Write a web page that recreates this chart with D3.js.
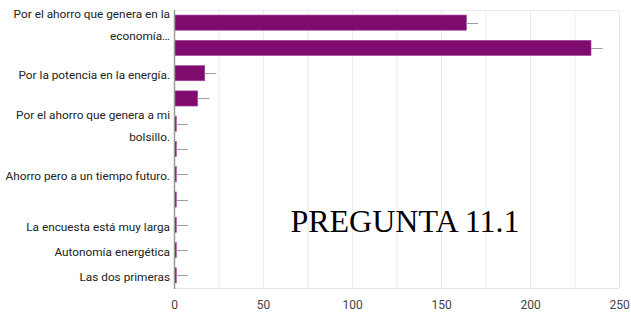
<!DOCTYPE html>
<html>
<head>
<meta charset="utf-8">
<script src="https://cdn.jsdelivr.net/npm/d3@7"></script>
<style>
  body { margin: 0; background: #fff; }
  svg { display: block; }
</style>
</head>
<body>
<svg></svg>
<script>
// answer labels, wrapped the way the chart shows them (empty = label hidden)
const labels = [
    ["Por el ahorro que genera en la", "economía…"],
    [],
    ["Por la potencia en la energía."],
    [],
    ["Por el ahorro que genera a mi", "bolsillo."],
    [],
    ["Ahorro pero a un tiempo futuro."],
    [],
    ["La encuesta está muy larga"],
    ["Autonomía energética"],
    ["Las dos primeras"]
]
const counts = [164, 234, 17, 13, 1, 1, 1, 1, 1, 1, 1]
const errors = [6.5, 6.5, 6.5, 6.5, 6.5, 6.5, 6.5, 6.5, 6.5, 6.5, 6.5]
const gridValues = [0, 25, 50, 75, 100, 125, 150, 175, 200, 225, 250]
const tickValues = [0, 50, 100, 150, 200, 250]
const title = "PREGUNTA 11.1"

const width = 631
const height = 314
const margin = {top: 10, right: 12, bottom: 26, left: 174}

const svg = d3.select("svg")
    .attr("width", width)
    .attr("height", height)

const x = d3.scaleLinear()
    .domain([0, 250])
    .range([margin.left, width - margin.right])

const y = d3.scaleBand()
    .domain(d3.range(counts.length))
    .range([margin.top, height - margin.bottom])
    .paddingInner(0.4)
    .paddingOuter(0.2)

// grid
svg.append("g")
    .selectAll("line")
    .data(gridValues.slice(1))
    .join("line")
    .attr("x1", d => x(d) + 0.5)
    .attr("x2", d => x(d) + 0.5)
    .attr("y1", margin.top)
    .attr("y2", height - margin.bottom)
    .attr("stroke", "#ebebeb")

svg.append("line")
    .attr("x1", margin.left)
    .attr("x2", width - margin.right)
    .attr("y1", margin.top + 0.5)
    .attr("y2", margin.top + 0.5)
    .attr("stroke", "#ebebeb")

svg.append("line")
    .attr("x1", margin.left)
    .attr("x2", width - margin.right)
    .attr("y1", height - margin.bottom + 0.5)
    .attr("y2", height - margin.bottom + 0.5)
    .attr("stroke", "#e4e4e4")

// bars
svg.append("g")
    .selectAll("rect")
    .data(counts)
    .join("rect")
    .attr("x", x(0) + 0.5)
    .attr("y", (d, i) => y(i))
    .attr("width", d => x(d) - x(0))
    .attr("height", y.bandwidth())
    .attr("fill", "#800b6f")
    .attr("stroke", "#a2459a")
    .attr("stroke-width", 0.6)

// error whiskers
svg.append("g")
    .selectAll("line")
    .data(counts)
    .join("line")
    .attr("x1", d => x(d) + 0.5)
    .attr("x2", (d, i) => x(d + errors[i]) + 0.5)
    .attr("y1", (d, i) => Math.round(y(i) + y.bandwidth() / 2) + 0.5)
    .attr("y2", (d, i) => Math.round(y(i) + y.bandwidth() / 2) + 0.5)
    .attr("stroke", "#9e9e9e")

// left axis line
svg.append("line")
    .attr("x1", x(0) + 0.5)
    .attr("x2", x(0) + 0.5)
    .attr("y1", margin.top)
    .attr("y2", height - margin.bottom + 1)
    .attr("stroke", "#9a9a9a")
    .attr("stroke-width", 1.5)

// category labels
const lineGap = 22
svg.append("g")
    .selectAll("text")
    .data(labels)
    .join("text")
    .attr("text-anchor", "end")
    .attr("font-family", "Roboto, Arial, sans-serif")
    .attr("font-size", 11.8)
    .attr("fill", "#222")
    .each(function (d, i) {
        const cy = y(i) + y.bandwidth() / 2 + 2
        const top = cy - (d.length - 1) * lineGap / 2
        d3.select(this)
            .selectAll("tspan")
            .data(d)
            .join("tspan")
            .attr("x", x(0) - 4)
            .attr("y", (t, j) => top + j * lineGap)
            .attr("dy", "0.35em")
            .text(t => t)
    })

// value ticks
svg.append("g")
    .attr("transform", `translate(0, ${height - margin.bottom})`)
    .call(d3.axisBottom(x).tickValues(tickValues).tickSize(0).tickPadding(12))
    .call(g => g.select(".domain").remove())
    .call(g => g.selectAll("text")
        .attr("font-family", "Roboto, Arial, sans-serif")
        .attr("font-size", 12)
        .attr("fill", "#444"))

// pasted caption
svg.append("text")
    .attr("x", 405)
    .attr("y", 232)
    .attr("text-anchor", "middle")
    .attr("font-family", "'Liberation Serif', 'Times New Roman', serif")
    .attr("font-size", 32)
    .attr("fill", "#000")
    .text(title)
</script>
</body>
</html>
